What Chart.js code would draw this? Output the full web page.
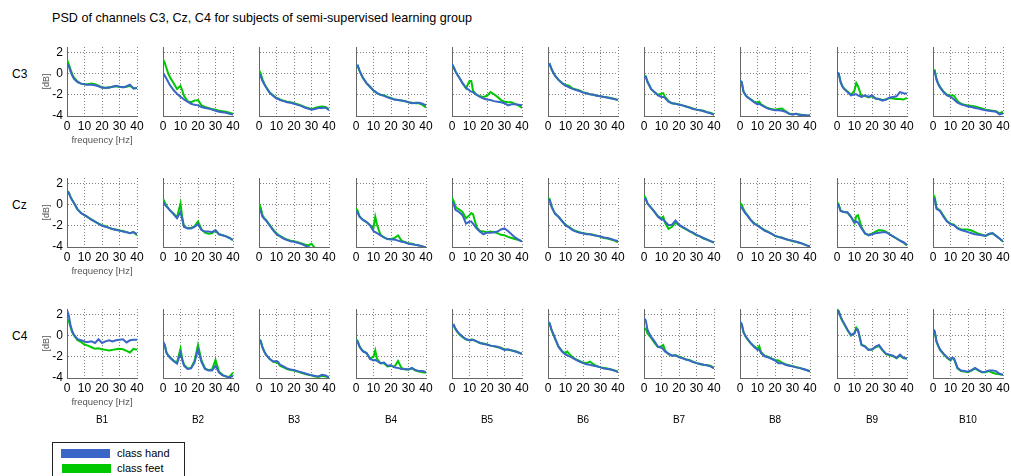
<!DOCTYPE html>
<html>
<head>
<meta charset="utf-8">
<title>PSD of channels C3, Cz, C4</title>
<script src="https://cdn.jsdelivr.net/npm/chart.js@4.4.1/dist/chart.umd.min.js"></script>
<style>
  body { margin: 0; background: #fff; font-family: "Liberation Sans", Arial, sans-serif; }
  #page { position: relative; width: 1011px; height: 476px; overflow: hidden; background: #fff; }
  #page canvas { position: absolute; }
  .txt { position: absolute; white-space: nowrap; color: #000; }
  #legend { position: absolute; left: 52px; top: 442px; width: 131px; height: 50px; border: 1px solid #222; background: #fff; }
  .swatch { position: absolute; width: 49px; height: 9px; }
  .ltxt { position: absolute; left: 64px; font-size: 11px; line-height: 13px; white-space: nowrap; }
</style>
</head>
<body>
<div id="page">
  <div class="txt" style="left:52px; top:11px; font-size:12.6px; line-height:15px;">PSD of channels C3, Cz, C4 for subjects of semi-supervised learning group</div>
  <div id="legend"></div>
</div>
<script>
"use strict";

// VARIABLES -----------------------
const freq = [0, 1, 2, 3, 4, 6, 8, 10, 11, 12, 14, 16, 18, 20, 22, 24, 26, 28, 30, 32, 34, 36, 38, 40];
const subjects = ["B1", "B2", "B3", "B4", "B5", "B6", "B7", "B8", "B9", "B10"];
const channels = ["C3", "Cz", "C4"];
const seriesNames = ["class hand", "class feet"];
const xTicks = [0, 10, 20, 30, 40];
const yTicks = [-4, -2, 0, 2];

// PSD in dB, one array per subject
const handC3 = [
  [0.9,0.7,0.2,-0.2,-0.5,-0.8,-0.95,-1.0,-1.05,-1.05,-1.05,-1.1,-1.2,-1.35,-1.35,-1.35,-1.25,-1.15,-1.25,-1.3,-1.2,-1.05,-1.4,-1.35],
  [0.0,-0.2,-0.5,-0.8,-1.1,-1.55,-1.9,-2.2,-2.3,-2.45,-2.65,-2.85,-2.95,-3.0,-3.15,-3.25,-3.3,-3.4,-3.5,-3.6,-3.65,-3.7,-3.8,-3.85],
  [0.0,-0.3,-0.7,-1.0,-1.3,-1.8,-2.1,-2.35,-2.4,-2.5,-2.6,-2.7,-2.75,-2.85,-2.95,-3.05,-3.2,-3.3,-3.4,-3.35,-3.25,-3.25,-3.2,-3.45],
  [0.65,0.75,0.3,-0.1,-0.4,-0.9,-1.25,-1.6,-1.7,-1.85,-2.0,-2.1,-2.25,-2.35,-2.45,-2.5,-2.55,-2.6,-2.7,-2.8,-2.75,-2.75,-2.85,-3.0],
  [0.9,0.6,0.2,-0.1,-0.35,-0.9,-1.35,-1.6,-1.7,-1.75,-2.0,-2.2,-2.35,-2.45,-2.5,-2.6,-2.65,-2.7,-2.8,-3.0,-2.9,-2.9,-2.95,-3.0],
  [0.8,0.9,0.45,0.1,-0.2,-0.6,-0.9,-1.15,-1.2,-1.3,-1.45,-1.55,-1.65,-1.8,-1.85,-1.95,-2.0,-2.1,-2.15,-2.2,-2.25,-2.35,-2.4,-2.5],
  [-0.35,-0.3,-0.8,-1.1,-1.45,-1.75,-2.05,-2.2,-2.2,-2.3,-2.65,-2.8,-2.85,-2.95,-3.0,-3.1,-3.2,-3.35,-3.4,-3.45,-3.55,-3.65,-3.75,-3.9],
  [-0.65,-0.8,-1.7,-2.0,-2.2,-2.45,-2.7,-2.9,-2.85,-2.95,-3.15,-3.3,-3.4,-3.45,-3.45,-3.5,-3.6,-3.8,-3.85,-3.8,-3.9,-3.9,-3.95,-3.95],
  [0.1,0.0,-0.8,-1.2,-1.45,-1.75,-2.05,-1.95,-1.95,-2.05,-2.2,-2.05,-2.2,-2.05,-2.35,-2.4,-2.55,-2.45,-2.25,-2.2,-2.15,-1.75,-1.85,-1.9],
  [0.2,0.2,-0.6,-1.0,-1.3,-1.75,-2.05,-2.2,-2.3,-2.45,-2.75,-2.9,-3.0,-3.1,-3.15,-3.25,-3.3,-3.4,-3.45,-3.5,-3.55,-3.6,-3.85,-3.75]
];
const feetC3 = [
  [1.3,0.9,0.4,-0.05,-0.4,-0.75,-0.95,-1.0,-1.0,-1.0,-0.95,-1.0,-1.15,-1.3,-1.35,-1.3,-1.25,-1.2,-1.25,-1.3,-1.25,-1.15,-1.4,-1.35],
  [1.35,1.0,0.5,0.0,-0.35,-0.9,-1.45,-1.15,-1.6,-2.1,-2.6,-2.7,-2.55,-2.5,-3.0,-3.15,-3.25,-3.35,-3.4,-3.5,-3.55,-3.6,-3.7,-3.8],
  [0.35,0.0,-0.55,-0.95,-1.25,-1.75,-2.05,-2.3,-2.35,-2.45,-2.55,-2.65,-2.7,-2.8,-2.9,-3.0,-3.15,-3.25,-3.35,-3.25,-3.15,-3.1,-3.15,-3.35],
  [0.6,0.7,0.25,-0.1,-0.45,-0.9,-1.25,-1.6,-1.7,-1.85,-2.0,-2.05,-2.2,-2.3,-2.45,-2.5,-2.55,-2.6,-2.7,-2.75,-2.8,-2.8,-2.95,-3.2],
  [0.85,0.55,0.2,-0.1,-0.35,-0.9,-1.4,-0.7,-0.7,-1.6,-2.0,-2.15,-2.2,-2.1,-1.75,-1.95,-2.2,-2.5,-2.65,-2.7,-2.7,-2.85,-3.0,-3.25],
  [0.75,0.85,0.4,0.1,-0.2,-0.6,-0.9,-1.1,-1.1,-1.15,-1.4,-1.5,-1.6,-1.75,-1.85,-1.95,-2.0,-2.1,-2.15,-2.2,-2.25,-2.3,-2.4,-2.5],
  [-0.3,-0.25,-0.75,-1.1,-1.45,-1.75,-2.0,-1.9,-1.85,-2.2,-2.6,-2.8,-2.85,-2.9,-3.0,-3.1,-3.2,-3.3,-3.4,-3.45,-3.5,-3.65,-3.7,-3.85],
  [-0.7,-0.85,-1.7,-2.0,-2.2,-2.4,-2.65,-2.75,-2.65,-2.9,-3.1,-3.25,-3.35,-3.4,-3.35,-3.3,-3.55,-3.75,-3.85,-3.8,-3.85,-3.9,-3.95,-3.95],
  [0.1,0.0,-0.75,-1.15,-1.4,-1.7,-2.0,-1.6,-0.9,-1.2,-2.15,-2.1,-2.25,-2.15,-2.35,-2.4,-2.5,-2.45,-2.3,-2.35,-2.4,-2.4,-2.45,-2.3],
  [0.35,0.3,-0.5,-0.95,-1.25,-1.7,-2.0,-2.1,-2.05,-2.1,-2.6,-2.85,-2.95,-3.0,-3.05,-3.1,-3.2,-3.3,-3.4,-3.45,-3.5,-3.55,-3.75,-3.6]
];
const handCz = [
  [1.25,1.1,0.7,0.4,0.15,-0.45,-0.8,-1.0,-1.1,-1.2,-1.45,-1.6,-1.8,-2.0,-2.1,-2.2,-2.3,-2.4,-2.45,-2.55,-2.6,-2.7,-2.6,-2.8],
  [0.25,0.0,-0.2,-0.35,-0.55,-0.9,-1.3,-0.7,-1.4,-2.1,-2.25,-2.25,-2.1,-1.85,-2.4,-2.55,-2.55,-2.6,-2.4,-2.8,-2.9,-3.0,-3.15,-3.35],
  [-0.4,-0.6,-1.15,-1.35,-1.5,-1.95,-2.4,-2.8,-2.9,-3.0,-3.2,-3.35,-3.45,-3.5,-3.6,-3.7,-3.85,-4.0,-4.1,-4.2,-4.3,-4.3,-4.3,-4.3],
  [-0.6,-0.8,-1.15,-1.3,-1.45,-1.65,-1.95,-2.5,-2.6,-2.7,-2.9,-3.1,-3.25,-3.3,-3.3,-3.4,-3.5,-3.55,-3.7,-3.75,-3.8,-3.85,-3.95,-4.05],
  [0.25,0.0,-0.5,-0.6,-0.7,-1.0,-1.8,-1.6,-1.6,-1.8,-2.25,-2.55,-2.8,-2.65,-2.65,-2.6,-2.55,-2.35,-2.25,-2.5,-2.8,-3.1,-3.3,-3.5],
  [0.45,0.4,-0.2,-0.55,-0.85,-1.15,-1.55,-1.95,-2.05,-2.15,-2.4,-2.55,-2.65,-2.7,-2.8,-2.8,-2.9,-2.95,-3.0,-3.1,-3.15,-3.25,-3.35,-3.45],
  [0.55,0.5,0.1,-0.1,-0.3,-0.7,-1.15,-1.4,-1.4,-1.6,-1.95,-1.9,-1.5,-1.9,-2.1,-2.3,-2.5,-2.65,-2.85,-3.0,-3.15,-3.3,-3.45,-3.55],
  [-0.2,-0.3,-0.55,-0.8,-1.0,-1.45,-1.8,-2.0,-2.1,-2.2,-2.45,-2.6,-2.75,-2.95,-3.05,-3.15,-3.25,-3.35,-3.4,-3.5,-3.6,-3.7,-3.85,-3.95],
  [0.1,-0.1,-0.6,-0.65,-0.7,-0.75,-1.15,-1.7,-1.6,-1.7,-2.25,-2.7,-2.9,-2.8,-2.7,-2.65,-2.6,-2.6,-2.8,-3.0,-3.2,-3.4,-3.55,-3.8],
  [0.55,0.5,-0.4,-0.5,-0.6,-1.15,-1.6,-1.85,-1.9,-1.95,-2.25,-2.4,-2.5,-2.6,-2.7,-2.8,-2.85,-2.9,-2.95,-2.75,-2.7,-2.95,-3.2,-3.45]
];
const feetCz = [
  [1.3,1.15,0.75,0.4,0.15,-0.45,-0.8,-1.0,-1.1,-1.2,-1.4,-1.6,-1.8,-1.95,-2.05,-2.2,-2.3,-2.35,-2.45,-2.5,-2.6,-2.7,-2.6,-2.9],
  [0.55,0.2,-0.1,-0.35,-0.55,-0.85,-1.2,0.1,-1.2,-2.1,-2.2,-2.2,-2.05,-1.6,-2.35,-2.65,-2.75,-2.7,-2.45,-2.8,-2.9,-3.0,-3.15,-3.35],
  [0.1,-0.3,-1.0,-1.3,-1.45,-1.9,-2.35,-2.7,-2.85,-2.95,-3.15,-3.3,-3.4,-3.45,-3.55,-3.65,-3.75,-3.85,-3.7,-4.1,-4.2,-4.3,-4.3,-4.3],
  [-0.35,-0.6,-1.1,-1.3,-1.45,-1.65,-1.95,-2.2,-1.15,-1.9,-2.85,-3.1,-3.25,-3.25,-3.15,-2.9,-3.4,-3.55,-3.65,-3.7,-3.8,-3.85,-3.95,-4.05],
  [0.65,0.3,-0.2,-0.35,-0.45,-0.7,-1.3,-1.0,-0.8,-0.9,-2.1,-2.5,-2.55,-2.6,-2.55,-2.6,-2.7,-2.85,-2.9,-3.05,-3.15,-3.25,-3.35,-3.45],
  [0.65,0.5,-0.15,-0.5,-0.85,-1.15,-1.55,-1.9,-2.0,-2.1,-2.35,-2.5,-2.6,-2.7,-2.75,-2.8,-2.85,-2.95,-3.05,-3.15,-3.2,-3.3,-3.4,-3.55],
  [0.85,0.6,0.1,-0.1,-0.3,-0.7,-1.1,-1.3,-1.15,-1.7,-2.3,-2.1,-1.7,-1.95,-2.15,-2.35,-2.5,-2.7,-2.9,-3.0,-3.2,-3.3,-3.45,-3.6],
  [0.15,0.0,-0.45,-0.75,-0.95,-1.4,-1.75,-1.95,-2.05,-2.2,-2.4,-2.55,-2.75,-2.95,-3.05,-3.1,-3.25,-3.35,-3.45,-3.5,-3.6,-3.7,-3.85,-3.95],
  [0.25,0.0,-0.55,-0.65,-0.7,-0.75,-1.15,-1.75,-1.1,-1.0,-2.1,-2.75,-2.85,-2.75,-2.55,-2.4,-2.45,-2.55,-2.8,-3.0,-3.2,-3.4,-3.6,-3.85],
  [0.95,0.7,-0.3,-0.45,-0.55,-1.05,-1.55,-1.8,-1.85,-1.9,-2.2,-2.35,-2.35,-2.35,-2.45,-2.6,-2.75,-2.85,-2.95,-2.8,-2.7,-2.95,-3.2,-3.5]
];
const handC4 = [
  [2.4,1.9,1.0,0.4,0.05,-0.35,-0.45,-0.55,-0.6,-0.6,-0.55,-0.7,-0.35,-0.7,-0.55,-0.45,-0.55,-0.45,-0.4,-0.35,-0.65,-0.45,-0.4,-0.4],
  [-0.55,-0.9,-1.65,-1.9,-2.1,-2.4,-2.65,-1.65,-2.3,-2.85,-3.15,-3.1,-2.55,-1.3,-2.5,-3.15,-3.3,-3.3,-2.85,-3.5,-3.75,-3.85,-3.95,-3.8],
  [-0.4,-0.55,-1.15,-1.5,-1.8,-2.2,-2.45,-2.4,-2.5,-2.75,-2.9,-3.1,-3.2,-3.25,-3.35,-3.45,-3.55,-3.65,-3.75,-3.8,-3.85,-3.7,-3.75,-3.95],
  [-0.4,-0.6,-1.05,-1.3,-1.5,-1.65,-2.2,-2.35,-2.3,-2.4,-2.6,-2.55,-2.85,-2.8,-3.0,-3.05,-3.15,-3.15,-3.2,-3.05,-3.25,-3.35,-3.35,-3.45],
  [0.85,1.0,0.65,0.4,0.2,-0.1,-0.35,-0.45,-0.45,-0.4,-0.55,-0.7,-0.8,-0.85,-0.95,-1.0,-1.05,-1.2,-1.35,-1.3,-1.4,-1.5,-1.6,-1.75],
  [1.3,1.15,0.55,0.15,-0.25,-1.05,-1.5,-1.8,-1.85,-1.95,-2.1,-2.3,-2.45,-2.6,-2.7,-2.75,-2.85,-2.9,-3.0,-3.1,-3.15,-3.2,-3.3,-3.45],
  [1.6,1.45,0.55,0.2,-0.1,-0.55,-1.05,-1.15,-1.3,-1.5,-1.7,-1.9,-1.85,-2.05,-2.15,-2.25,-2.35,-2.5,-2.6,-2.65,-2.75,-2.8,-2.9,-3.1],
  [1.3,1.1,0.35,0.0,-0.25,-0.7,-1.05,-1.35,-1.3,-1.65,-1.95,-2.05,-2.2,-2.35,-2.6,-2.6,-2.75,-2.85,-2.9,-3.0,-3.05,-3.15,-3.25,-3.4],
  [2.4,2.25,1.8,1.45,1.15,0.55,0.05,0.2,0.6,0.5,-0.9,-1.05,-1.35,-1.3,-1.05,-0.9,-1.35,-1.7,-1.8,-1.9,-2.1,-1.8,-2.1,-2.2],
  [0.6,0.4,-0.55,-0.95,-1.3,-1.7,-2.05,-2.3,-2.1,-2.15,-3.05,-3.3,-3.35,-3.4,-3.25,-3.05,-3.25,-3.45,-3.4,-3.3,-3.3,-3.35,-3.6,-3.7]
];
const feetC4 = [
  [1.6,1.4,0.8,0.3,0.0,-0.45,-0.6,-0.85,-0.9,-0.95,-1.1,-1.25,-1.2,-1.3,-1.35,-1.4,-1.35,-1.3,-1.25,-1.3,-1.45,-1.6,-1.25,-1.35],
  [-0.6,-0.9,-1.6,-1.85,-2.05,-2.35,-2.55,-1.25,-2.2,-2.75,-3.1,-3.05,-2.4,-0.9,-2.35,-3.1,-3.25,-3.2,-2.3,-3.4,-3.7,-3.85,-3.9,-3.5],
  [-0.35,-0.5,-1.1,-1.5,-1.8,-2.2,-2.45,-2.55,-2.6,-2.85,-3.0,-3.15,-3.25,-3.3,-3.4,-3.5,-3.6,-3.7,-3.75,-3.85,-3.9,-3.8,-3.85,-3.95],
  [-0.35,-0.55,-1.0,-1.25,-1.45,-1.65,-2.15,-2.0,-1.4,-2.2,-2.6,-2.6,-2.9,-2.85,-2.95,-2.4,-3.05,-3.2,-3.2,-3.1,-3.3,-3.4,-3.45,-3.5],
  [0.8,0.95,0.6,0.35,0.15,-0.15,-0.35,-0.45,-0.35,-0.4,-0.55,-0.7,-0.75,-0.85,-0.95,-1.0,-1.1,-1.15,-1.3,-1.35,-1.4,-1.45,-1.6,-1.7],
  [1.2,1.1,0.5,0.1,-0.3,-1.05,-1.45,-1.7,-1.5,-1.7,-2.05,-2.25,-2.4,-2.55,-2.6,-2.45,-2.7,-2.9,-3.0,-3.05,-3.1,-3.2,-3.3,-3.4],
  [0.7,0.65,0.2,0.0,-0.2,-0.7,-1.1,-1.0,-0.9,-1.4,-1.75,-1.9,-1.85,-2.0,-2.1,-2.25,-2.3,-2.45,-2.6,-2.7,-2.75,-2.8,-2.85,-3.05],
  [1.25,1.05,0.3,-0.05,-0.3,-0.7,-1.0,-1.25,-1.0,-1.55,-1.9,-2.0,-2.15,-2.3,-2.35,-2.55,-2.7,-2.8,-2.9,-2.95,-3.05,-3.15,-3.25,-3.35],
  [2.5,2.3,1.75,1.4,1.1,0.5,0.0,0.25,0.75,0.55,-0.85,-1.0,-1.35,-1.35,-1.1,-1.0,-1.4,-1.75,-1.85,-1.95,-2.15,-1.9,-2.15,-2.15],
  [0.55,0.35,-0.6,-1.0,-1.35,-1.75,-2.1,-2.35,-2.1,-2.2,-3.1,-3.35,-3.4,-3.45,-3.3,-3.1,-3.3,-3.45,-3.45,-3.35,-3.5,-3.6,-3.65,-3.7]
];

const handData = [handC3, handCz, handC4];
const feetData = [feetC3, feetCz, feetC4];

const blue = '#3a66c8';
const green = '#00c800';
const gridColor = 'rgba(0, 0, 0, 0.5)';
const axisColor = '#666';
const fontFamily = '"Liberation Sans", Arial, sans-serif';

// layout of the subplot grid (plot area in page pixels)
const firstLeft = 67;
const colStep = 96.2;
const rowTops = [47, 178, 309];
const plotW = 70;
const plotH = 69;
const padL = 45, padT = 14, padR = 15, padB = 35;

const page = document.getElementById('page');

Chart.defaults.font.family = fontFamily;
Chart.defaults.color = '#000';

// FUNCTIONS -----------------------

function addText(text, left, top, size, extra) {
  const el = document.createElement('div');
  el.className = 'txt';
  el.textContent = text;
  el.style.left = left + 'px';
  el.style.top = top + 'px';
  el.style.fontSize = size + 'px';
  el.style.lineHeight = Math.round(size * 1.2) + 'px';
  if (extra) Object.assign(el.style, extra);
  page.appendChild(el);
  return el;
}

// Hide the grid line that sits on the axis itself
function gridAt(skipValue) {
  return ctx => (ctx.tick && ctx.tick.value === skipValue) ? 'rgba(0,0,0,0)' : gridColor;
}

function makeSubplot(row, col) {
  const left = Math.round(firstLeft + col * colStep);
  const top = rowTops[row];
  const first = col === 0;

  const canvas = document.createElement('canvas');
  canvas.width = padL + plotW + padR;
  canvas.height = padT + plotH + padB;
  canvas.style.left = (left - padL) + 'px';
  canvas.style.top = (top - padT) + 'px';
  page.appendChild(canvas);

  new Chart(canvas, {
    type: 'line',
    data: {
      labels: freq,
      datasets: [
        { label: seriesNames[0], data: handData[row][col], borderColor: blue, borderWidth: 2, pointRadius: 0, tension: 0 },
        { label: seriesNames[1], data: feetData[row][col], borderColor: green, borderWidth: 2, pointRadius: 0, tension: 0 }
      ]
    },
    options: {
      responsive: false,
      animation: false,
      devicePixelRatio: 1,
      events: [],
      layout: { padding: { top: padT, right: padR, left: 0, bottom: 0 } },
      plugins: { legend: { display: false }, tooltip: { enabled: false } },
      scales: {
        x: {
          type: 'linear',
          min: 0,
          max: 40,
          afterFit: scale => { scale.height = padB; },
          afterBuildTicks: scale => { scale.ticks = xTicks.map(v => ({ value: v })); },
          ticks: { autoSkip: false, maxRotation: 0, minRotation: 0, padding: 3, color: '#000', font: { size: 12 } },
          grid: { drawTicks: false, color: gridAt(0), lineWidth: 1 },
          border: { color: axisColor, width: 1, dash: [1, 2] },
          title: { display: first, text: 'frequency [Hz]', color: '#555', font: { size: 9.5 }, padding: { top: 0, bottom: 5 } }
        },
        y: {
          min: -4,
          max: 2.5,
          afterFit: scale => { scale.width = padL; },
          afterBuildTicks: scale => { scale.ticks = yTicks.map(v => ({ value: v })); },
          ticks: { display: first, padding: 4, color: '#000', font: { size: 12 } },
          grid: { drawTicks: false, color: gridAt(-4), lineWidth: 1 },
          border: { color: axisColor, width: 1, dash: [1, 2] },
          title: { display: first, text: '[dB]', color: '#555', font: { size: 9 }, padding: { top: 19, bottom: 0 } }
        }
      }
    }
  });
}

function buildLegend() {
  const legend = document.getElementById('legend');
  const colors = [blue, green];
  const tops = [6, 21];
  const lefts = [8, 9];
  seriesNames.forEach((name, i) => {
    const sw = document.createElement('div');
    sw.className = 'swatch';
    sw.style.top = tops[i] + 'px';
    sw.style.left = lefts[i] + 'px';
    sw.style.background = colors[i];
    legend.appendChild(sw);
    const lt = document.createElement('div');
    lt.className = 'ltxt';
    lt.style.top = (tops[i] - 2) + 'px';
    lt.textContent = name;
    legend.appendChild(lt);
  });
}

// BUILD ---------------------------
channels.forEach((ch, row) => {
  addText(ch, 12, rowTops[row] + 20, 12, { lineHeight: '14px' });
  subjects.forEach((s, col) => makeSubplot(row, col));
});

subjects.forEach((s, col) => {
  const center = Math.round(firstLeft + col * colStep) + plotW / 2;
  addText(s, center - 20, 414, 10, { width: '40px', textAlign: 'center' });
});

buildLegend();
</script>
</body>
</html>
